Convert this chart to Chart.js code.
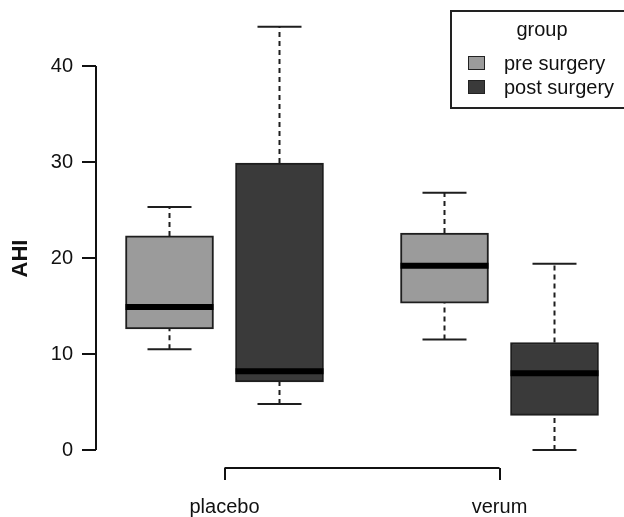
<!DOCTYPE html>
<html>
<head>
<meta charset="utf-8">
<script src="https://cdn.jsdelivr.net/npm/chart.js@4.4.1/dist/chart.umd.min.js"></script>
<style>
  html, body { margin:0; padding:0; background:#fff; }
  #wrap { position:relative; width:624px; height:517px; overflow:hidden; }
  #legend {
    position:absolute; left:450px; top:10px; width:190px; height:99px;
    border:2px solid #222; box-sizing:border-box;
    font-family:"Liberation Sans", Arial, sans-serif; font-size:20px; color:#111;
  }
  #legend .ttl { position:absolute; left:0; width:180px; top:6px; text-align:center; }
  #legend .row { position:absolute; left:16px; height:24px; line-height:24px; white-space:nowrap; }
  #legend .sw { display:inline-block; width:15px; height:12px; border:1.5px solid #222; vertical-align:middle; margin-right:19px; position:relative; top:-2px; }
</style>
</head>
<body>
<div id="wrap">
  <canvas id="c" width="624" height="517"></canvas>
  <div id="legend"></div>
</div>
<script>
// AHI boxplot — placebo / verum, pre vs post surgery
const groups  = ['placebo', 'verum'];
const series  = ['pre surgery', 'post surgery'];
const yTicks  = [0, 10, 20, 30, 40];
const yTitle  = 'AHI';

// five-number summaries per group
const preMin  = [10.5, 11.5];
const preQ1   = [12.6, 15.3];
const preMed  = [14.9, 19.2];
const preQ3   = [22.3, 22.6];
const preMax  = [25.3, 26.8];

const postMin = [4.8, 0.0];
const postQ1  = [7.1, 3.6];
const postMed = [8.2, 8.0];
const postQ3  = [29.9, 11.2];
const postMax = [44.1, 19.4];

const FILL = ['#9b9b9b', '#3a3a3a'];
const EDGE = '#1e1e1e';
const FONT = '"Liberation Sans", Arial, sans-serif';

const groupCenter = g => 1.5 + g * 2.5;
const boxX = (g, s) => groupCenter(g) + (s === 0 ? -0.5 : 0.5);

const stats = [
  {min:preMin,  q1:preQ1,  med:preMed,  q3:preQ3,  max:preMax},
  {min:postMin, q1:postQ1, med:postMed, q3:postQ3, max:postMax}
];

const datasets = [];
stats.forEach((st, s) => {
  datasets.push({
    type:'bar', label:series[s], order:3,
    data: groups.map((_, g) => ({x:boxX(g, s), y:[st.q1[g], st.q3[g]]})),
    backgroundColor:FILL[s], borderColor:EDGE, borderWidth:2,
    borderSkipped:false, barThickness:88, grouped:false
  });
});

// dashed whiskers
const whisk = [];
stats.forEach((st, s) => groups.forEach((_, g) => {
  const x = boxX(g, s);
  whisk.push({x, y:st.q3[g]}, {x, y:st.max[g]}, {x, y:null});
  whisk.push({x, y:st.min[g]}, {x, y:st.q1[g]}, {x, y:null});
}));
datasets.push({
  type:'line', label:'whisker', order:2, data:whisk, spanGaps:false,
  borderColor:EDGE, borderWidth:2, borderDash:[5, 4], pointRadius:0, fill:false
});

// whisker caps
const caps = [];
stats.forEach((st, s) => groups.forEach((_, g) => {
  caps.push({x:boxX(g, s), y:st.min[g]}, {x:boxX(g, s), y:st.max[g]});
}));
datasets.push({
  type:'scatter', label:'cap', order:1, data:caps,
  pointStyle:'line', pointRadius:22, borderColor:EDGE, pointBorderWidth:2, showLine:false
});

// medians
const meds = [];
stats.forEach((st, s) => groups.forEach((_, g) => meds.push({x:boxX(g, s), y:st.med[g]})));
datasets.push({
  type:'scatter', label:'median', order:0, data:meds,
  pointStyle:'line', pointRadius:44, borderColor:'#000', pointBorderWidth:6, showLine:false
});

// R-style axis lines (y only across tick range, x bracket between group labels) + y title
const axisLines = {
  id:'axisLines',
  afterDraw(chart) {
    const {ctx, chartArea, scales:{x, y}} = chart;
    ctx.save();
    ctx.strokeStyle = '#111';
    ctx.lineWidth = 2;
    ctx.beginPath();
    ctx.moveTo(chartArea.left, y.getPixelForValue(yTicks[0]));
    ctx.lineTo(chartArea.left, y.getPixelForValue(yTicks[yTicks.length - 1]));
    ctx.moveTo(x.getPixelForValue(groupCenter(0)), chartArea.bottom);
    ctx.lineTo(x.getPixelForValue(groupCenter(groups.length - 1)), chartArea.bottom);
    ctx.stroke();

    ctx.translate(21, chart.height / 2);
    ctx.rotate(-Math.PI / 2);
    ctx.fillStyle = '#111';
    ctx.font = 'bold 22px ' + FONT;
    ctx.textAlign = 'center';
    ctx.textBaseline = 'middle';
    ctx.fillText(yTitle, 0, 0);
    ctx.restore();
  }
};

const noPad = s => { s.paddingTop = 0; s.paddingBottom = 0; s.paddingLeft = 0; s.paddingRight = 0; };

new Chart(document.getElementById('c'), {
  data:{datasets},
  options:{
    responsive:false, animation:false, events:[],
    layout:{autoPadding:false, padding:{top:10, right:0, bottom:0, left:0}},
    plugins:{legend:{display:false}, tooltip:{enabled:false}},
    scales:{
      x:{
        type:'linear', min:0.3318, max:5.1318, offset:false,
        afterFit:s => { s.height = 49; noPad(s); },
        afterBuildTicks:s => { s.ticks = groups.map((_, g) => ({value:groupCenter(g)})); },
        ticks:{
          color:'#111', font:{family:FONT, size:20}, padding:15, maxRotation:0, autoSkip:false,
          callback:v => groups[groups.findIndex((_, g) => groupCenter(g) === v)]
        },
        grid:{drawOnChartArea:false, drawTicks:true, offset:false, tickLength:12, color:'#111', lineWidth:2},
        border:{display:false}
      },
      y:{
        type:'linear', min:-1.875, max:45.833,
        afterFit:s => { s.width = 96; noPad(s); },
        afterBuildTicks:s => { s.ticks = yTicks.map(v => ({value:v})); },
        ticks:{color:'#111', font:{family:FONT, size:20}, padding:9},
        grid:{drawOnChartArea:false, drawTicks:true, tickLength:14, color:'#111', lineWidth:2},
        border:{display:false}
      }
    }
  },
  plugins:[axisLines]
});

// legend box
const lg = document.getElementById('legend');
lg.innerHTML = '<div class="ttl">group</div>' + series.map((name, s) =>
  `<div class="row" style="top:${39 + s * 24}px"><span class="sw" style="background:${FILL[s]}"></span>${name}</div>`
).join('');
</script>
</body>
</html>
